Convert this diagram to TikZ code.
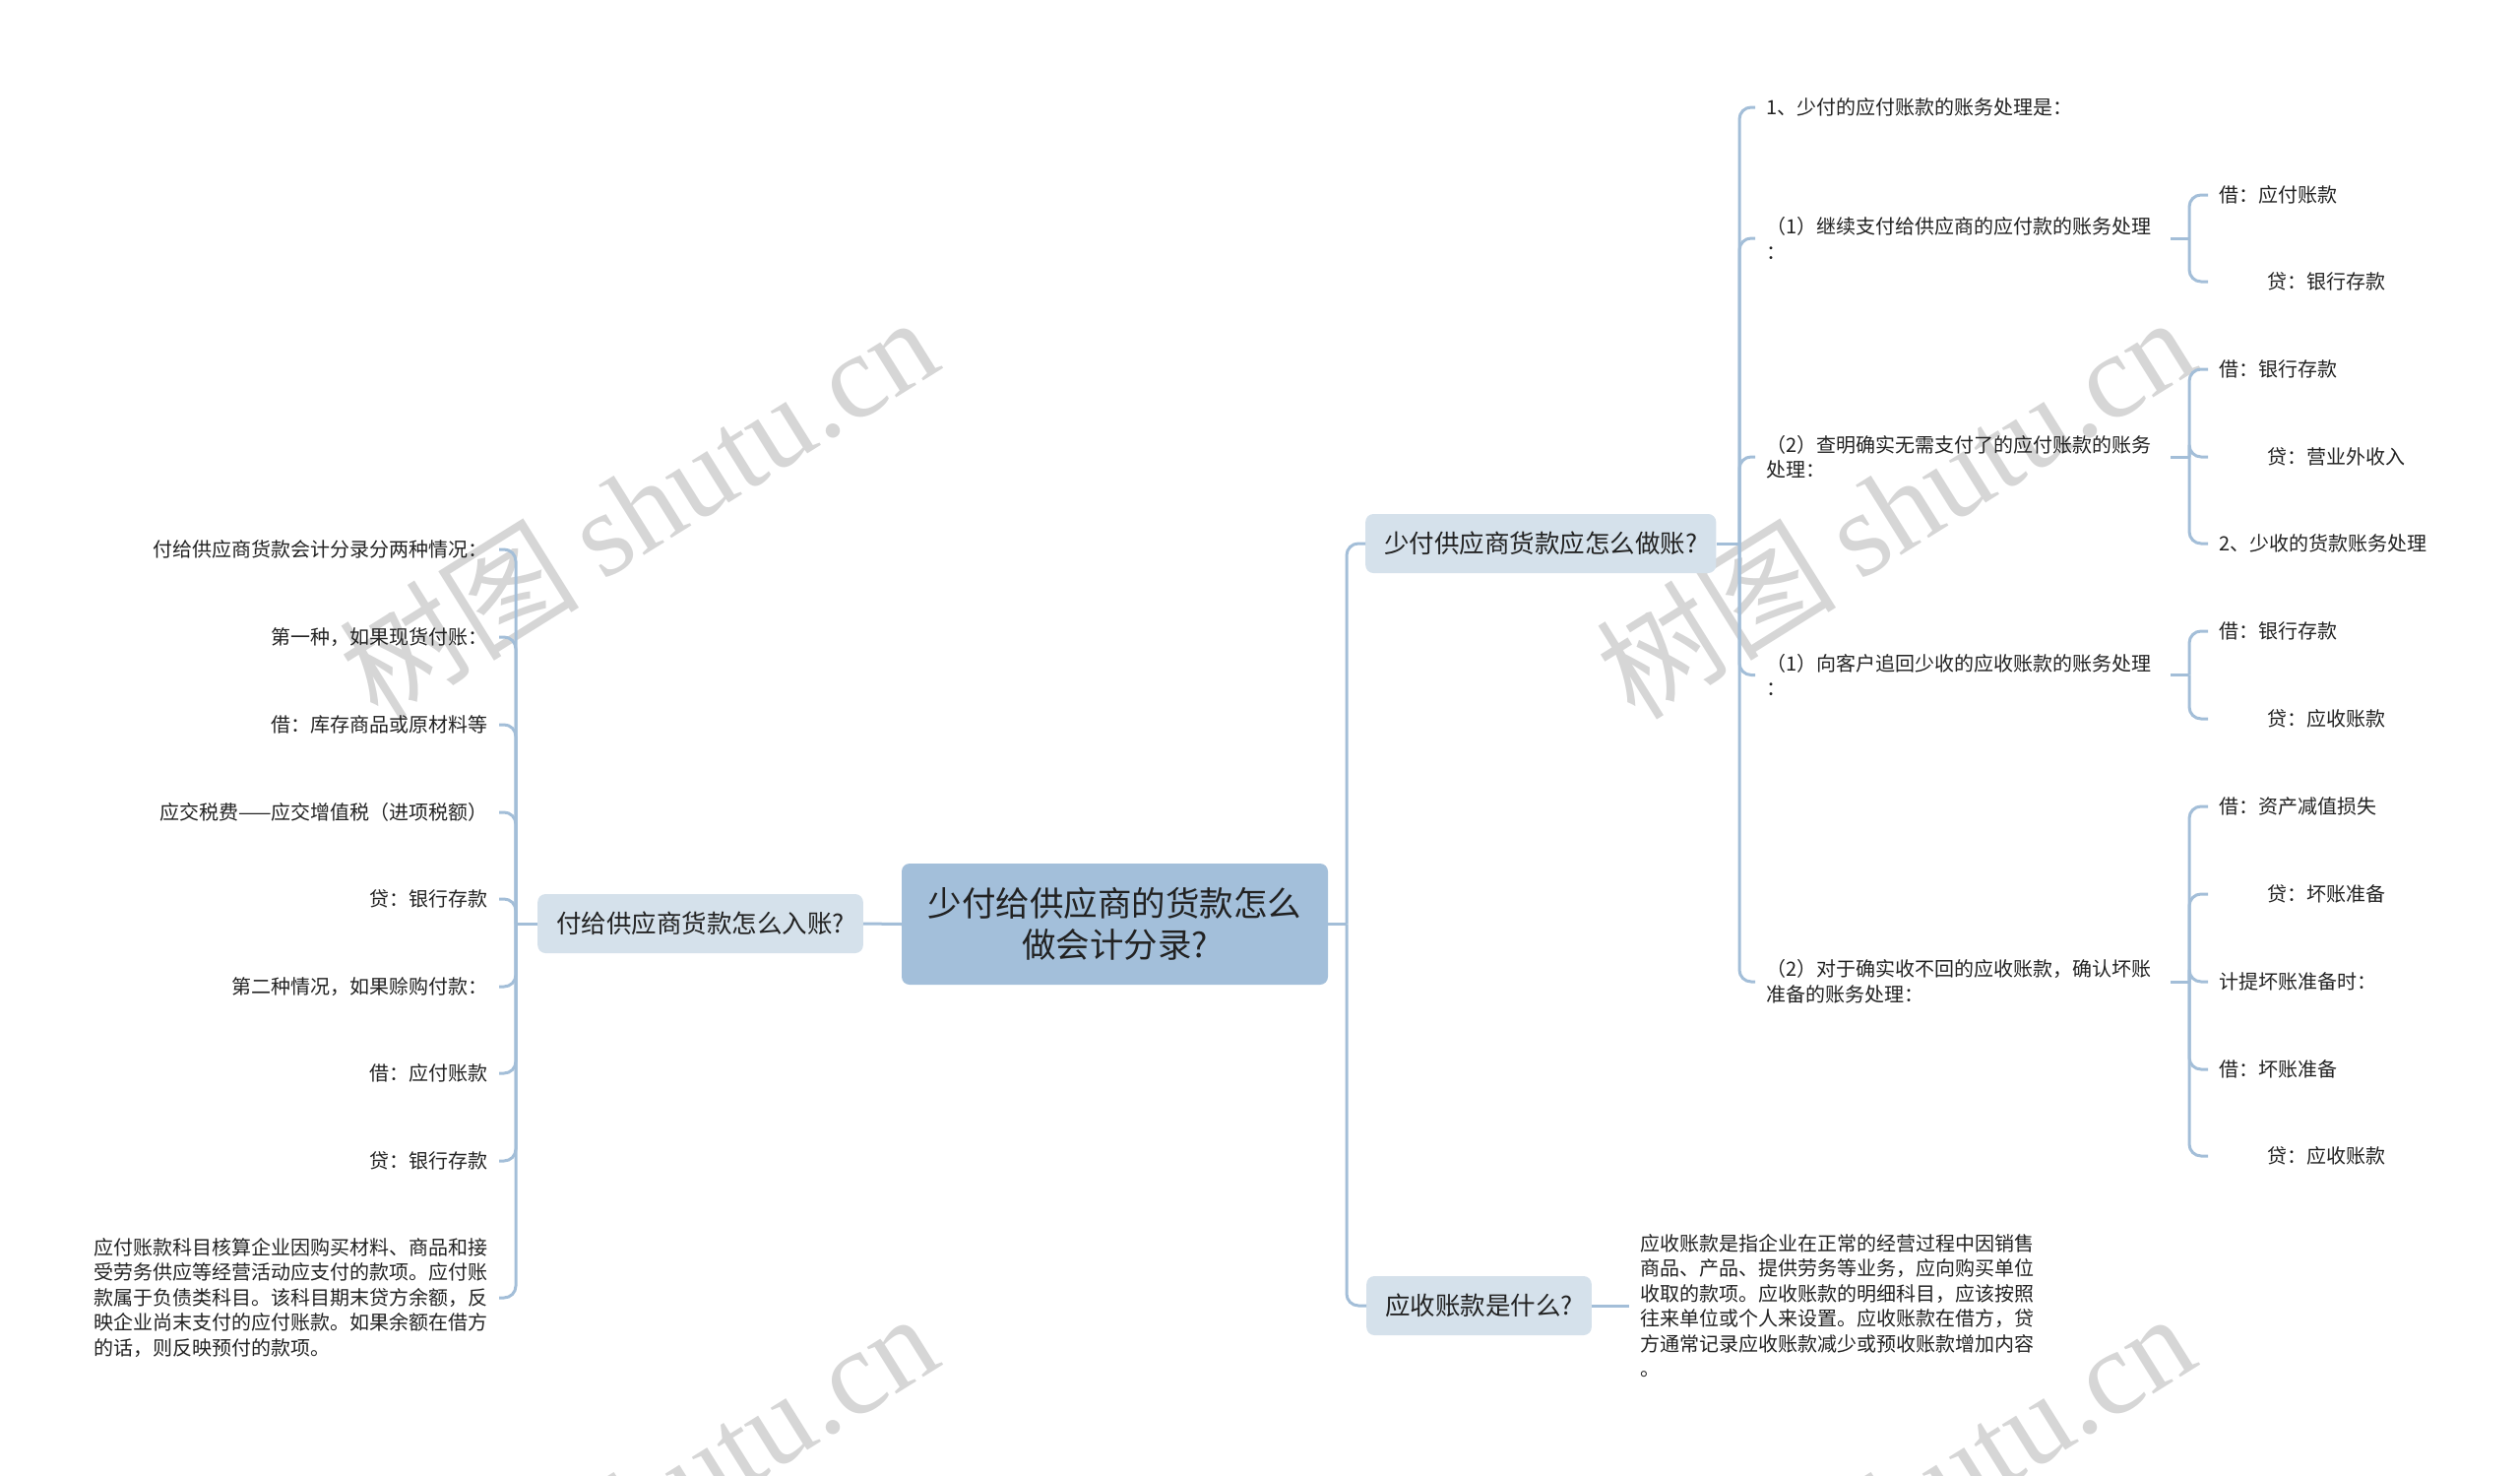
\documentclass[tikz,border=0pt]{standalone}
\usepackage{fontspec}
\setmainfont{Noto Sans CJK SC}
\newfontfamily\wmserif{Liberation Serif}
\newfontfamily\wmcjk{Noto Sans CJK SC}
\definecolor{linec}{RGB}{163,190,216}
\definecolor{rootfill}{RGB}{163,191,218}
\definecolor{subfill}{RGB}{213,225,235}
\definecolor{txt}{RGB}{34,34,34}
\definecolor{wm}{RGB}{214,214,214}
\tikzset{
  conn/.style={draw=linec, line width=3pt, rounded corners=12pt},
  rootbox/.style={fill=rootfill, rounded corners=8pt, text=txt, align=center,
    font=\fontsize{34.5}{42}\selectfont, minimum width=433pt, minimum height=123pt, inner sep=0pt},
  subbox/.style={fill=subfill, rounded corners=8pt, text=txt,
    font=\fontsize{25.5}{30}\selectfont, minimum height=60pt, inner xsep=19pt, inner ysep=0pt},
  leaf/.style={text=txt, font=\fontsize{20}{25.5}\selectfont, inner xsep=11pt, inner ysep=2pt, align=left},
  leafr/.style={text=txt, font=\fontsize{20}{25.5}\selectfont, inner xsep=11pt, inner ysep=2pt, align=right},
  midbox/.style={leaf, text width=400pt},
  wmark/.style={text=wm, rotate=32, inner sep=0pt, font=\fontsize{122}{122}\selectfont}
}
\newcommand{\ind}{\hspace*{49pt}}
\begin{document}
\begin{tikzpicture}[x=1pt,y=-1pt]
\useasboundingbox (0,0) rectangle (2560,1499);
% watermarks
\begin{scope}
\clip (0,0) rectangle (2560,1499);
\node[wmark] (w1) at (648,514) {\wmcjk 树图\hspace{0.2em}\wmserif shutu.cn};
\node[wmark] (w2) at (1925,514) {\wmcjk 树图\hspace{0.2em}\wmserif shutu.cn};
\node[wmark] (w3) at (648,1526) {\wmcjk 树图\hspace{0.2em}\wmserif shutu.cn};
\node[wmark] (w4) at (1925,1526) {\wmcjk 树图\hspace{0.2em}\wmserif shutu.cn};
\end{scope}

% main nodes
\node[rootbox] (root) at (1132.5,938.5) {少付给供应商的货款怎么\\做会计分录?};
\node[subbox, anchor=east] (L) at (877,938) {付给供应商货款怎么入账?};
\node[subbox, anchor=west] (R1) at (1387,552) {少付供应商货款应怎么做账?};
\node[subbox, anchor=west] (R2) at (1388,1326) {应收账款是什么?};

% left children
\node[leafr, anchor=east] (l1) at (507,558) {付给供应商货款会计分录分两种情况：};
\node[leafr, anchor=east] (l2) at (507,647) {第一种，如果现货付账：};
\node[leafr, anchor=east] (l3) at (507,736) {借：库存商品或原材料等};
\node[leafr, anchor=east] (l4) at (507,825) {应交税费——应交增值税（进项税额）};
\node[leafr, anchor=east] (l5) at (507,913) {贷：银行存款};
\node[leafr, anchor=east] (l6) at (507,1002) {第二种情况，如果赊购付款：};
\node[leafr, anchor=east] (l7) at (507,1090) {借：应付账款};
\node[leafr, anchor=east] (l8) at (507,1179) {贷：银行存款};
\node[leaf, anchor=east] (l9) at (507,1318) {应付账款科目核算企业因购买材料、商品和接\\受劳务供应等经营活动应支付的款项。应付账\\款属于负债类科目。该科目期末贷方余额，反\\映企业尚末支付的应付账款。如果余额在借方\\的话，则反映预付的款项。};

% right level 2
\node[leaf, anchor=west] (a) at (1783,109) {1、少付的应付账款的账务处理是：};
\node[midbox, anchor=west] (b) at (1783,242) {（1）继续支付给供应商的应付款的账务处理\\：};
\node[midbox, anchor=west] (c) at (1783,464) {（2）查明确实无需支付了的应付账款的账务\\处理：};
\node[midbox, anchor=west] (d) at (1783,685.5) {（1）向客户追回少收的应收账款的账务处理\\：};
\node[midbox, anchor=west] (e) at (1783,997) {（2）对于确实收不回的应收账款，确认坏账\\准备的账务处理：};

% right level 3
\node[leaf, anchor=west] (b1) at (2243,198) {借：应付账款};
\node[leaf, anchor=west] (b2) at (2243,286) {\ind 贷：银行存款};
\node[leaf, anchor=west] (c1) at (2243,375) {借：银行存款};
\node[leaf, anchor=west] (c2) at (2243,464) {\ind 贷：营业外收入};
\node[leaf, anchor=west] (c3) at (2243,552) {2、少收的货款账务处理};
\node[leaf, anchor=west] (d1) at (2243,641) {借：银行存款};
\node[leaf, anchor=west] (d2) at (2243,730) {\ind 贷：应收账款};
\node[leaf, anchor=west] (e1) at (2243,819) {借：资产减值损失};
\node[leaf, anchor=west] (e2) at (2243,908) {\ind 贷：坏账准备};
\node[leaf, anchor=west] (e3) at (2243,997) {计提坏账准备时：};
\node[leaf, anchor=west] (e4) at (2243,1086) {借：坏账准备};
\node[leaf, anchor=west] (e5) at (2243,1174) {\ind 贷：应收账款};

% right paragraph
\node[leaf, anchor=west] (p2) at (1655,1326) {应收账款是指企业在正常的经营过程中因销售\\商品、产品、提供劳务等业务，应向购买单位\\收取的款项。应收账款的明细科目，应该按照\\往来单位或个人来设置。应收账款在借方，贷\\方通常记录应收账款减少或预收账款增加内容\\。};

% connectors: root
\draw[conn] (root.west) -- (L.east);
\coordinate (rs) at (1368,938.5);
\draw[conn] (root.east) -- (rs);
\draw[conn] (rs) |- (R1.west);
\draw[conn] (rs) |- (R2.west);
\draw[conn] (R2.east) -- (p2.west);

% left spine
\coordinate (ls) at (524,938);
\draw[conn] (L.west) -- (ls);
\foreach \n in {l1,l2,l3,l4,l5,l6,l7,l8,l9} \draw[conn] (ls) |- (\n.east);

% right spine level 2
\coordinate (s2) at (1767,552);
\draw[conn] (R1.east) -- (s2);
\foreach \n in {a,b,c,d,e} \draw[conn] (s2) |- (\n.west);

% level 3 spines
\coordinate (sb) at (2224,242);
\draw[conn] (b.east) -- (sb);
\foreach \n in {b1,b2} \draw[conn] (sb) |- (\n.west);
\coordinate (sc) at (2224,464);
\draw[conn] (c.east) -- (sc);
\foreach \n in {c1,c2,c3} \draw[conn] (sc) |- (\n.west);
\coordinate (sd) at (2224,685.5);
\draw[conn] (d.east) -- (sd);
\foreach \n in {d1,d2} \draw[conn] (sd) |- (\n.west);
\coordinate (se) at (2224,997);
\draw[conn] (e.east) -- (se);
\foreach \n in {e1,e2,e3,e4,e5} \draw[conn] (se) |- (\n.west);
\end{tikzpicture}
\end{document}
